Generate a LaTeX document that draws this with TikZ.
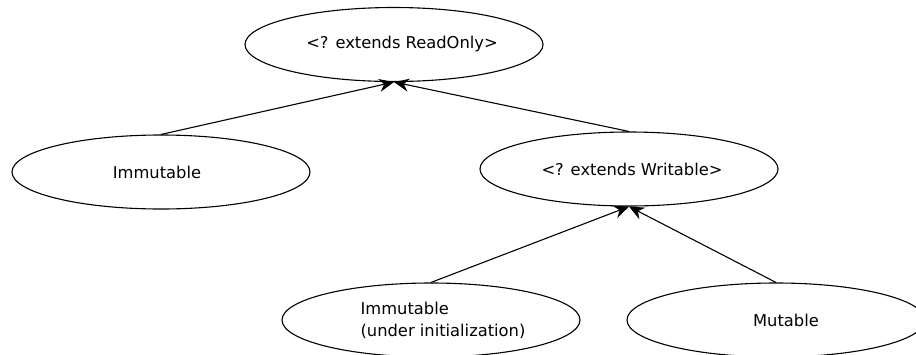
\documentclass[tikz,border=0pt]{standalone}
\usepackage{fontspec}
\setmainfont{DejaVu Sans}
\usetikzlibrary{shapes.geometric,arrows.meta}
\begin{document}
\begin{tikzpicture}[x=1pt,y=-1pt,
  cls/.style={draw,ellipse,line width=1.1pt,minimum width=298pt,minimum height=74pt,inner sep=0pt,
    font=\fontsize{16.3}{22}\selectfont,align=left},
  inh/.style={line width=1.1pt,-{Stealth[length=15pt,width=13pt,inset=5pt]}}]
\useasboundingbox (0,0) rectangle (916,354);
\node[cls] (ro) at (394,44.5) {\hspace*{16pt}<? extends ReadOnly>};
\node[cls] (im) at (161,172) {Immutable\hspace*{8pt}};
\node[cls] (wr) at (629,169) {\hspace*{6pt}<? extends Writable>};
\node[cls] (ui) at (431,320) {\hspace*{24pt}Immutable\\\hspace*{24pt}(under initialization)};
\node[cls] (mu) at (776,320) {\hspace*{20pt}Mutable};
\draw[inh] (im.north) -- (ro.south);
\draw[inh] (wr.north) -- (ro.south);
\draw[inh] (ui.north) -- (wr.south);
\draw[inh] (mu.north) -- (wr.south);
\end{tikzpicture}
\end{document}
